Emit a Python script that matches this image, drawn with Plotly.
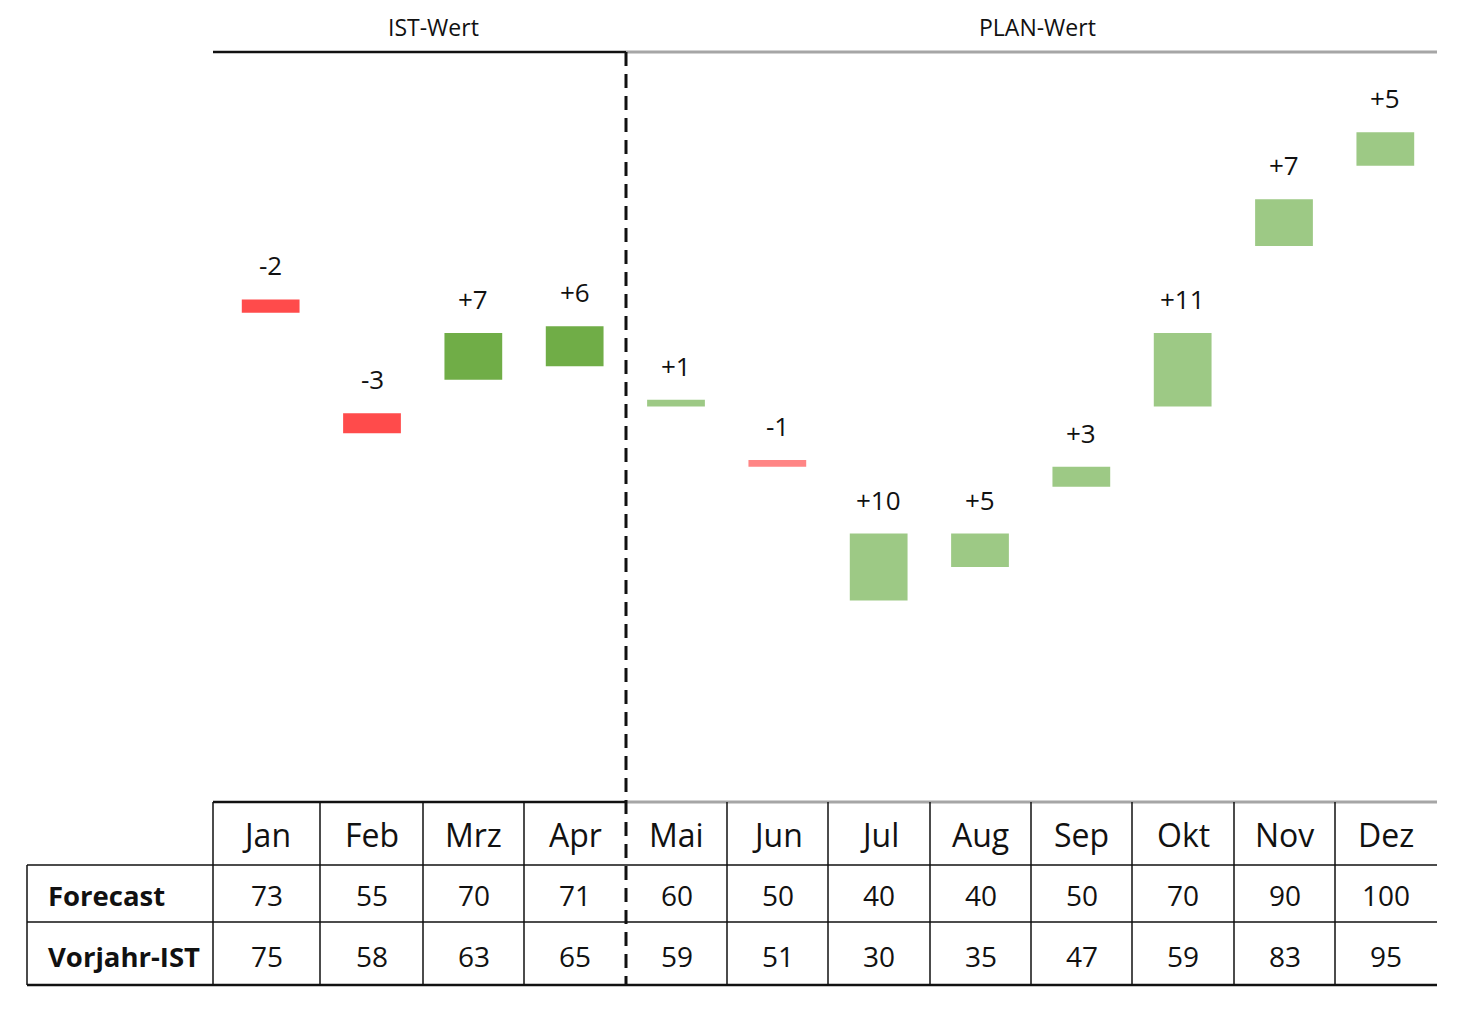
import plotly.graph_objects as go

months = ["Jan", "Feb", "Mrz", "Apr", "Mai", "Jun", "Jul", "Aug", "Sep", "Okt", "Nov", "Dez"]
forecast = [73, 55, 70, 71, 60, 50, 40, 40, 50, 70, 90, 100]
vorjahr = [75, 58, 63, 65, 59, 51, 30, 35, 47, 59, 83, 95]
row_labels = ["Forecast", "Vorjahr-IST"]
section_labels = ["IST-Wert", "PLAN-Wert"]
n_ist = 4

W, H = 1460, 1015
OFF = 8  # page body margin
# plot area in screenshot pixels: x 220..1436, y 52..801
ML = 220 - OFF
MT = 52 - OFF
MR = W - (1436 - OFF)
MB = H - (801 - OFF)
PW = W - ML - MR
PH = H - MT - MB

def px(X):
    return (X - OFF - ML) / PW

def py(Y):
    return (H - MB - (Y - OFF)) / PH

FONT = "Open Sans"
ist_pos, ist_neg = "#70AD47", "#FF4B4B"
plan_pos, plan_neg = "#9DC985", "#FF8585"

diffs = [f - v for f, v in zip(forecast, vorjahr)]
colors = []
for i, d in enumerate(diffs):
    if i < n_ist:
        colors.append(ist_pos if d >= 0 else ist_neg)
    else:
        colors.append(plan_pos if d >= 0 else plan_neg)

fig = go.Figure()
fig.add_trace(go.Bar(
    x=months,
    y=[abs(d) for d in diffs],
    base=[min(f, v) for f, v in zip(forecast, vorjahr)],
    marker=dict(color=colors, line=dict(width=0)),
    width=0.57,
    hoverinfo="skip",
))

annotations = []
for m, f, v, d in zip(months, forecast, vorjahr, diffs):
    annotations.append(dict(
        x=m, y=max(f, v), xref="x", yref="y",
        text=f"{d:+d}", showarrow=False, yanchor="bottom", yshift=14,
        font=dict(family=FONT, size=26, color="#111111"),
    ))

# table geometry (screenshot pixel positions)
col_edges = [213, 320, 423, 524, 626, 727, 828, 930, 1031, 1132, 1234, 1335, 1437]
split_x = col_edges[n_ist]
left_x = 27
rows_y = [802, 865, 922, 985]

shapes = []
line_black = dict(color="#111111", width=1.5)
shapes.append(dict(type="line", xref="paper", yref="paper", x0=px(213), x1=px(split_x), y0=py(52), y1=py(52),
                   line=dict(color="#111111", width=2.5)))
shapes.append(dict(type="line", xref="paper", yref="paper", x0=px(split_x), x1=px(1437), y0=py(52), y1=py(52),
                   line=dict(color="#A6A6A6", width=3)))
shapes.append(dict(type="line", xref="paper", yref="paper", x0=px(213), x1=px(split_x), y0=py(802), y1=py(802),
                   line=dict(color="#111111", width=2.5)))
shapes.append(dict(type="line", xref="paper", yref="paper", x0=px(split_x), x1=px(1437), y0=py(802), y1=py(802),
                   line=dict(color="#A6A6A6", width=3)))
for Y in rows_y[1:3]:
    shapes.append(dict(type="line", xref="paper", yref="paper", x0=px(left_x), x1=px(1437), y0=py(Y), y1=py(Y),
                       line=line_black))
shapes.append(dict(type="line", xref="paper", yref="paper", x0=px(left_x), x1=px(1437), y0=py(985), y1=py(985),
                   line=dict(color="#111111", width=2.5)))
shapes.append(dict(type="line", xref="paper", yref="paper", x0=px(left_x), x1=px(left_x), y0=py(865), y1=py(985),
                   line=line_black))
for i, X in enumerate(col_edges[:-1]):
    if i == n_ist:
        continue
    shapes.append(dict(type="line", xref="paper", yref="paper", x0=px(X), x1=px(X), y0=py(802), y1=py(985),
                       line=line_black))
shapes.append(dict(type="line", xref="paper", yref="paper", x0=px(split_x), x1=px(split_x), y0=py(52), y1=py(985),
                   line=dict(color="#111111", width=3, dash="14px,8px")))

annotations.append(dict(x=px(433), y=py(27), xref="paper", yref="paper", text=section_labels[0], showarrow=False,
                        xanchor="center", yanchor="middle", font=dict(family=FONT, size=23, color="#111111")))
annotations.append(dict(x=px(1037), y=py(27), xref="paper", yref="paper", text=section_labels[1], showarrow=False,
                        xanchor="center", yanchor="middle", font=dict(family=FONT, size=23, color="#111111")))

for i, m in enumerate(months):
    cx = (col_edges[i] + col_edges[i + 1]) / 2
    annotations.append(dict(x=px(cx), y=py(834), xref="paper", yref="paper", text=m, showarrow=False,
                            xanchor="center", yanchor="middle", font=dict(family=FONT, size=32, color="#111111")))
    annotations.append(dict(x=px(cx), y=py(895), xref="paper", yref="paper", text=str(forecast[i]), showarrow=False,
                            xanchor="center", yanchor="middle", font=dict(family=FONT, size=28, color="#111111")))
    annotations.append(dict(x=px(cx), y=py(956), xref="paper", yref="paper", text=str(vorjahr[i]), showarrow=False,
                            xanchor="center", yanchor="middle", font=dict(family=FONT, size=28, color="#111111")))
for lbl, Y in zip(row_labels, [895, 956]):
    annotations.append(dict(x=px(46), y=py(Y), xref="paper", yref="paper", text=f"<b>{lbl}</b>", showarrow=False,
                            xanchor="left", yanchor="middle", font=dict(family=FONT, size=27.5, color="#111111")))

fig.update_layout(
    width=W, height=H,
    margin=dict(l=ML, r=MR, t=MT, b=MB, pad=0),
    paper_bgcolor="white", plot_bgcolor="white",
    showlegend=False,
    xaxis=dict(range=[-0.5, 11.5], showticklabels=False, showgrid=False, zeroline=False, showline=False,
               ticks="", fixedrange=True),
    yaxis=dict(range=[0, 112], showticklabels=False, showgrid=False, zeroline=False, showline=False,
               ticks="", fixedrange=True),
    shapes=shapes,
    annotations=annotations,
    font=dict(family=FONT),
)

fig.write_html("out.html", config={"displayModeBar": False})
